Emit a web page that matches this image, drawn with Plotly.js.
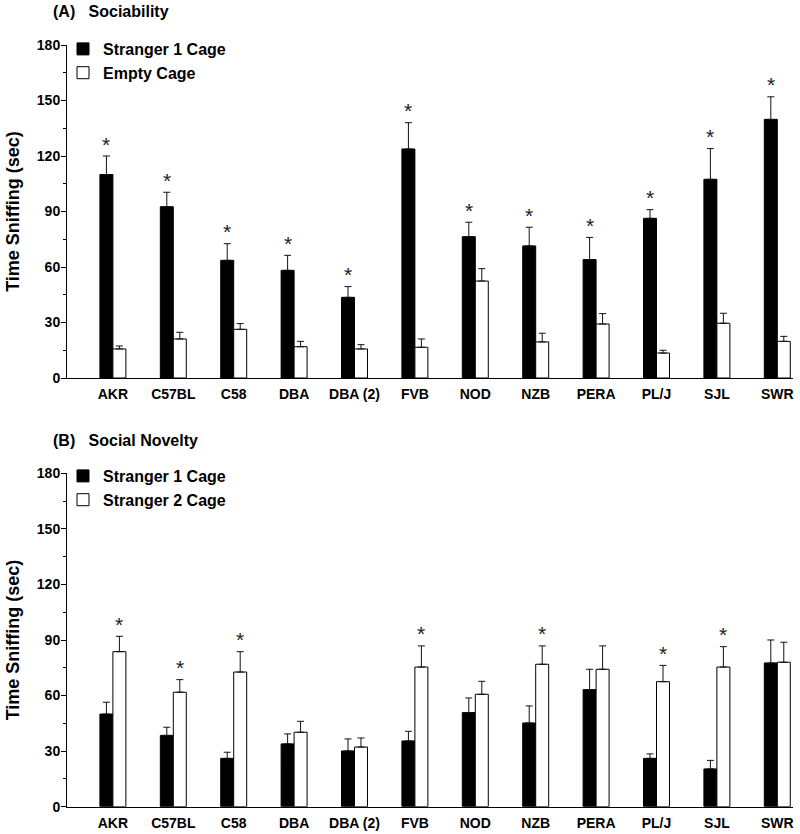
<!DOCTYPE html>
<html>
<head>
<meta charset="utf-8">
<script src="https://cdn.plot.ly/plotly-3.0.1.min.js"></script>
<style>html,body{margin:0;padding:0;background:#fff;}#chart{width:800px;height:834px;}</style>
</head>
<body>
<div id="chart"></div>
<script>
// ---- Data ----
var strains = ["AKR", "C57BL", "C58", "DBA", "DBA (2)", "FVB", "NOD", "NZB", "PERA", "PL/J", "SJL", "SWR"];

// (A) Sociability
var sociabilityStranger1 = [110, 92.6, 63.6, 58.2, 43.6, 123.8, 76.4, 71.4, 64, 86.3, 107.4, 139.8];
var sociabilityStranger1Err = [10, 7.8, 9, 8.1, 5.8, 14.2, 7.8, 10.1, 12, 4.7, 16.6, 12.2];
var sociabilityEmpty = [15.7, 21.1, 26.3, 16.9, 15.7, 16.6, 52.4, 19.5, 29.2, 13.5, 29.6, 19.8];
var sociabilityEmptyErr = [1.6, 3.6, 3.1, 2.9, 2.3, 4.5, 6.7, 4.7, 5.6, 1.5, 5.4, 2.7];
var sociabilitySig = [1, 1, 1, 1, 1, 1, 1, 1, 1, 1, 1, 1]; // stars over Stranger 1 bars

// (B) Social Novelty
var noveltyStranger1 = [50, 38.5, 26.1, 33.9, 30.1, 35.5, 50.8, 45.2, 63.2, 26.1, 20.4, 77.6];
var noveltyStranger1Err = [6.4, 4.4, 3.3, 5.4, 6.5, 5.2, 7.9, 9.2, 11, 2.4, 4.6, 12.4];
var noveltyStranger2 = [83.7, 61.8, 72.7, 40.2, 32.2, 75.4, 60.7, 76.9, 74.2, 67.5, 75.4, 78];
var noveltyStranger2Err = [8.3, 6.8, 11, 5.9, 4.9, 11.4, 7, 9.9, 12.6, 8.8, 11, 10.8];
var noveltySig = [1, 1, 1, 0, 0, 1, 0, 1, 0, 1, 1, 0]; // stars over Stranger 2 bars

var yTicks = [0, 30, 60, 90, 120, 150, 180];
var yMinorTicks = [15, 45, 75, 105, 135, 165];

// ---- Styling ----
var FONT = "Liberation Sans, Arial, Helvetica, sans-serif";
var BARGAP = 0.57;
var barOffset = (1 - BARGAP) / 4; // half a bar width, in category units

function zeros(n){var a=[];for(var i=0;i<n;i++)a.push(0);return a;}
function errBar(arr) {
  return {type: "data", array: arr, arrayminus: zeros(arr.length), symmetric: false,
          color: "#111", thickness: 1, width: 3.5};
}

var traces = [
  {type: "bar", name: "Stranger 1 Cage", x: strains, y: sociabilityStranger1, error_y: errBar(sociabilityStranger1Err),
   marker: {color: "#000", line: {color: "#000", width: 1}}, xaxis: "x", yaxis: "y", legend: "legend"},
  {type: "bar", name: "Empty Cage", x: strains, y: sociabilityEmpty, error_y: errBar(sociabilityEmptyErr),
   marker: {color: "#fff", line: {color: "#000", width: 1}}, xaxis: "x", yaxis: "y", legend: "legend"},
  {type: "bar", name: "Stranger 1 Cage", x: strains, y: noveltyStranger1, error_y: errBar(noveltyStranger1Err),
   marker: {color: "#000", line: {color: "#000", width: 1}}, xaxis: "x2", yaxis: "y2", legend: "legend2"},
  {type: "bar", name: "Stranger 2 Cage", x: strains, y: noveltyStranger2, error_y: errBar(noveltyStranger2Err),
   marker: {color: "#fff", line: {color: "#000", width: 1}}, xaxis: "x2", yaxis: "y2", legend: "legend2"}
];

var annotations = [];
function addStars(sig, vals, errs, xref, yref, offset) {
  for (var i = 0; i < sig.length; i++) {
    if (!sig[i]) continue;
    annotations.push({x: i + offset, y: vals[i] + errs[i], xref: xref, yref: yref,
      text: "*", showarrow: false, yanchor: "middle", yshift: 12,
      font: {family: FONT, size: 21, color: "#222"}});
  }
}
addStars(sociabilitySig, sociabilityStranger1, sociabilityStranger1Err, "x", "y", -barOffset);
addStars(noveltySig, noveltyStranger2, noveltyStranger2Err, "x2", "y2", barOffset);

annotations.push({xref: "paper", yref: "paper", x: 51/800, y: 1 - 11/834, xanchor: "left", yanchor: "middle",
  text: "(A)&nbsp;&nbsp;&nbsp;Sociability", showarrow: false, font: {family: FONT, size: 16, color: "#000", weight: "bold"}});
annotations.push({xref: "paper", yref: "paper", x: 51/800, y: 1 - 440/834, xanchor: "left", yanchor: "middle",
  text: "(B)&nbsp;&nbsp;&nbsp;Social Novelty", showarrow: false, font: {family: FONT, size: 16, color: "#000", weight: "bold"}});

function xAxis(anchor) {
  return {type: "category", range: [-0.76, 11.26], showline: true, linecolor: "#000", linewidth: 1,
    ticks: "", showgrid: false, zeroline: false, anchor: anchor, domain: [67/800, 793/800],
    tickfont: {family: FONT, size: 14, color: "#000", weight: "bold"}, ticklabelstandoff: 3};
}
function yAxis(domain, anchor) {
  return {range: [0, 180], tickvals: yTicks, ticktext: yTicks.map(String), showline: true, linecolor: "#000", linewidth: 1,
    ticks: "outside", ticklen: 5, tickcolor: "#000", showgrid: false, zeroline: false, anchor: anchor, domain: domain,
    minor: {tickvals: yMinorTicks, ticks: "outside", ticklen: 3, tickcolor: "#000", showgrid: false},
    tickfont: {family: FONT, size: 14, color: "#000", weight: "bold"}, ticklabelstandoff: -2,
    title: {text: "Time Sniffing (sec)", standoff: 12, font: {family: FONT, size: 18, color: "#000", weight: "bold"}}};
}

var layout = {
  width: 800, height: 834, margin: {l: 0, r: 0, t: 0, b: 0},
  paper_bgcolor: "#fff", plot_bgcolor: "#fff",
  barmode: "group", bargap: BARGAP, bargroupgap: 0,
  xaxis: xAxis("y"),
  yaxis: yAxis([(834-378)/834, (834-45)/834], "x"),
  xaxis2: xAxis("y2"),
  yaxis2: yAxis([(834-806.7)/834, (834-473.3)/834], "x2"),
  legend: {x: 63/800, y: 1 - 32/834, xanchor: "left", yanchor: "top", bgcolor: "rgba(0,0,0,0)",
    font: {family: FONT, size: 16, color: "#000", weight: "bold"}, tracegroupgap: 0},
  legend2: {x: 63/800, y: 1 - 459/834, xanchor: "left", yanchor: "top", bgcolor: "rgba(0,0,0,0)",
    font: {family: FONT, size: 16, color: "#000", weight: "bold"}, tracegroupgap: 0},
  annotations: annotations,
  showlegend: true
};

Plotly.newPlot("chart", traces, layout, {staticPlot: true});
</script>
</body>
</html>
